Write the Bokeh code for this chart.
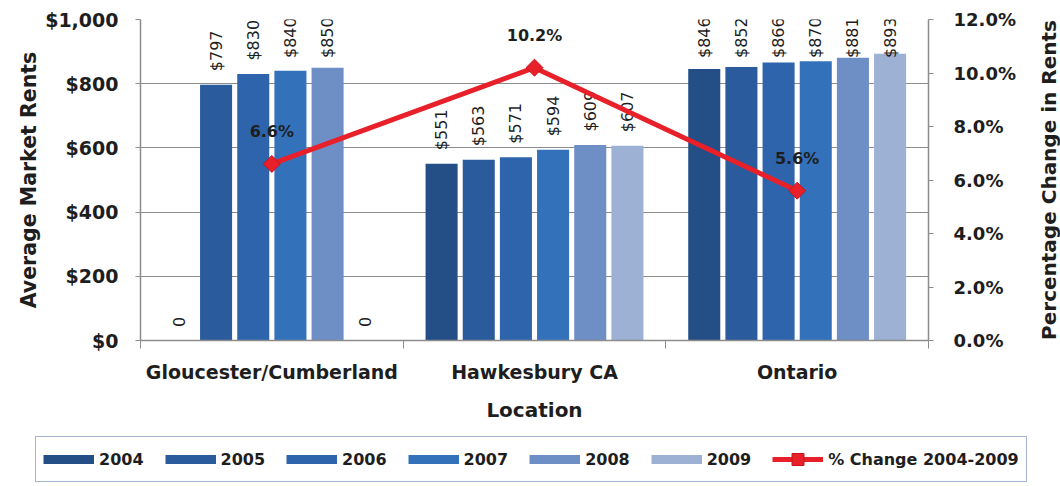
import numpy as np
from bokeh.plotting import figure
from bokeh.layouts import row
from bokeh.models import (ColumnDataSource, Range1d, LinearAxis, FixedTicker,
                          NumeralTickFormatter, PrintfTickFormatter, Legend, LegendItem)
from bokeh.core.properties import value
from bokeh.embed import file_html
from bokeh.resources import INLINE

# ---------------- data ----------------
locations = ["Gloucester/Cumberland", "Hawkesbury CA", "Ontario"]
years = ["2004", "2005", "2006", "2007", "2008", "2009"]
rents_2004 = [0, 551, 846]
rents_2005 = [797, 563, 852]
rents_2006 = [830, 571, 866]
rents_2007 = [840, 594, 870]
rents_2008 = [850, 609, 881]
rents_2009 = [0, 607, 893]
pct_change = [6.6, 10.2, 5.6]
pct_label = "% Change 2004-2009"
left_ticks = [0, 200, 400, 600, 800, 1000]
right_ticks = [0, 2, 4, 6, 8, 10, 12]
right_title = "Percentage Change in Rents"

series = [rents_2004, rents_2005, rents_2006, rents_2007, rents_2008, rents_2009]
colors = ["#234E86", "#2A5B9C", "#2D64AC", "#3372BB", "#6E8EC6", "#9DB1D5"]

FONT = "DejaVu Sans"
TXT = "#1E1E1E"
GRID = "#8C8C8C"
RED = "#E8202A"

p = figure(width=1036, height=432, x_range=Range1d(0, 3), y_range=Range1d(0, 1000),
           output_backend="svg", toolbar_location=None,
           min_border_left=140, min_border_right=108, min_border_top=19, min_border_bottom=92)
p.outline_line_color = None
p.background_fill_color = "white"
p.border_fill_color = "white"

p.extra_y_ranges = {"pct": Range1d(0, 12)}

# x axis (categorical-like numeric axis)
xa = p.xaxis[0]
xa.ticker = FixedTicker(ticks=[i + 0.5 for i in range(len(locations))],
                        minor_ticks=list(range(len(locations) + 1)))
xa.major_label_overrides = {i + 0.5: loc for i, loc in enumerate(locations)}
xa.major_tick_line_color = None
xa.major_tick_out = 0
xa.major_tick_in = 0
xa.minor_tick_line_color = GRID
xa.minor_tick_out = 8
xa.minor_tick_in = 0
xa.axis_line_color = GRID
xa.axis_line_width = 1.5
xa.major_label_text_font = FONT
xa.major_label_text_font_style = "bold"
xa.major_label_text_font_size = "19px"
xa.major_label_text_color = TXT
xa.major_label_standoff = 12
xa.axis_label = "Location"
xa.axis_label_text_font = FONT
xa.axis_label_text_font_style = "bold"
xa.axis_label_text_font_size = "20px"
xa.axis_label_text_color = TXT
xa.axis_label_standoff = 12

ya = p.yaxis[0]
ya.ticker = FixedTicker(ticks=left_ticks)
ya.formatter = NumeralTickFormatter(format="$0,0")
ya.axis_line_color = GRID
ya.axis_line_width = 1.5
ya.major_tick_line_color = GRID
ya.major_tick_out = 5
ya.major_tick_in = 0
ya.minor_tick_line_color = None
ya.major_label_text_font = FONT
ya.major_label_text_font_style = "bold"
ya.major_label_text_font_size = "19px"
ya.major_label_text_color = TXT
ya.major_label_standoff = 17
ya.axis_label = "Average Market Rents"
ya.axis_label_text_font = FONT
ya.axis_label_text_font_style = "bold"
ya.axis_label_text_font_size = "20.5px"
ya.axis_label_text_color = TXT
ya.axis_label_standoff = 1

ra = LinearAxis(y_range_name="pct", ticker=FixedTicker(ticks=right_ticks),
                formatter=PrintfTickFormatter(format="%.1f%%"))
ra.axis_line_color = GRID
ra.axis_line_width = 1.5
ra.major_tick_line_color = GRID
ra.major_tick_out = 5
ra.major_tick_in = 0
ra.minor_tick_line_color = None
ra.major_label_text_font = FONT
ra.major_label_text_font_style = "bold"
ra.major_label_text_font_size = "18px"
ra.major_label_text_color = TXT
ra.major_label_standoff = 20
p.add_layout(ra, "right")

p.xgrid.visible = False
p.ygrid.grid_line_color = GRID
p.ygrid.grid_line_width = 1.2

# ---------------- bars ----------------
n_years = len(years)
slot = 0.1415
bar_w = 0.122
centers = np.arange(len(locations)) + 0.5
label_cap = 880  # labels never rise above the plot top (as in the original)

for j, (yr, vals, col) in enumerate(zip(years, series, colors)):
    off = (j - (n_years - 1) / 2) * slot
    vals = np.array(vals)
    src = ColumnDataSource(dict(
        x=centers + off,
        top=vals,
        label=[f"${v:,}" if v else "0" for v in vals],
        ly=np.minimum(vals + 42, label_cap),
    ))
    p.vbar(x="x", top="top", width=bar_w, source=src, fill_color=col, line_color=None)
    p.text(x="x", y="ly", text="label", source=src, angle=np.pi / 2,
           text_align="left", text_baseline="middle",
           text_font=value(FONT), text_font_size="16px", text_color=TXT)

# ---------------- % change line ----------------
lsrc = ColumnDataSource(dict(x=centers, y=pct_change,
                             label=[f"{v:.1f}%" for v in pct_change]))
p.line(x="x", y="y", source=lsrc, y_range_name="pct", line_color=RED, line_width=5)
p.scatter(x="x", y="y", source=lsrc, y_range_name="pct", marker="square",
          angle=np.pi / 4, size=12, fill_color=RED, line_color="#C8141C")
p.text(x="x", y="y", text="label", source=lsrc, y_range_name="pct", y_offset=-32,
       text_align="center", text_baseline="middle", text_font=value(FONT),
       text_font_style="bold", text_font_size="16px", text_color=TXT)

# ---------------- right axis title strip (reads bottom-to-top) ----------------
tf = figure(width=24, height=432, x_range=Range1d(0, 1), y_range=Range1d(0, 1),
            output_backend="svg", toolbar_location=None,
            x_axis_location=None, y_axis_location=None,
            min_border_left=0, min_border_right=0, min_border_top=19, min_border_bottom=92)
tf.outline_line_color = None
tf.grid.visible = False
tf.background_fill_color = "white"
tf.border_fill_color = "white"
tf.text(x=[0.5], y=[0.5], text=[right_title], angle=np.pi / 2,
        text_align="center", text_baseline="middle", text_font=value(FONT),
        text_font_style="bold", text_font_size="20px", text_color=TXT)

# ---------------- legend strip (separate root below the chart) ----------------
lg = figure(width=1060, height=54, x_range=Range1d(0, 1), y_range=Range1d(0, 1),
            output_backend="svg", toolbar_location=None,
            x_axis_location=None, y_axis_location=None,
            min_border_left=0, min_border_right=0, min_border_top=0, min_border_bottom=0)
lg.outline_line_color = None
lg.grid.visible = False
lg.background_fill_color = "white"
lg.border_fill_color = "white"

# legend swatches only (placed outside the visible range of this strip)
items = []
for yr, col in zip(years, colors):
    r = lg.line(x=[-5, -4], y=[0, 0], line_color=col, line_width=9)
    items.append(LegendItem(label=yr, renderers=[r]))
l1 = lg.line(x=[-5, -4], y=[0, 0], line_color=RED, line_width=5)
l2 = lg.scatter(x=[-5], y=[0], marker="square", angle=np.pi / 4, size=12,
                fill_color=RED, line_color="#C8141C")
items.append(LegendItem(label=pct_label, renderers=[l1, l2]))

legend = Legend(items=items, orientation="horizontal", location=(35, 4),
                glyph_width=51, glyph_height=30, label_standoff=5, spacing=21,
                padding=7, margin=0, border_line_color="#4A6FA5", border_line_width=1.5,
                label_text_font=FONT, label_text_font_style="bold",
                label_text_font_size="16px", label_text_color=TXT,
                background_fill_color="white", background_fill_alpha=1)
lg.add_layout(legend)

open("out.html", "w").write(file_html([row(p, tf, spacing=0), lg], INLINE))
